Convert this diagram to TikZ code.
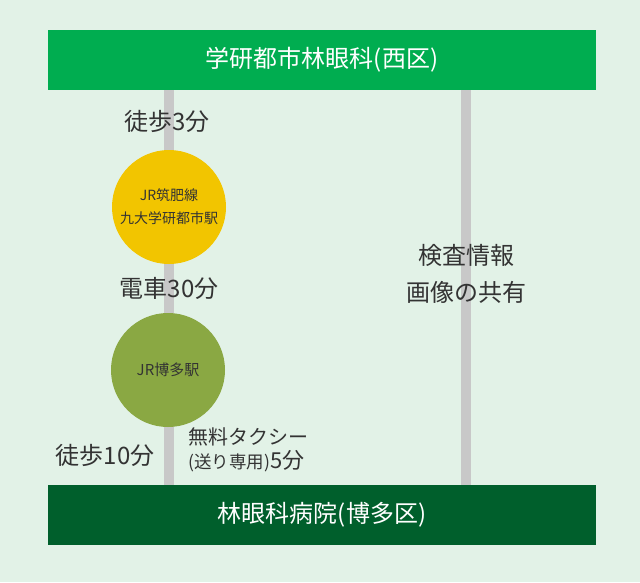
\documentclass[tikz,border=0pt]{standalone}
\usepackage{fontspec}
\setmainfont{Noto Sans CJK JP}
\begin{document}
\begin{tikzpicture}[
		x=1pt, y=-1pt,
		every node/.style={text=MauChu, inner sep=0pt},
		thanh/.style={minimum width=548pt, minimum height=60pt, text=white,
			font=\fontsize{24}{27}\selectfont},
		ga/.style={circle, minimum size=114pt, align=center},
		nhan/.style={font=\fontsize{24}{27}\selectfont},
		duong/.style={MauDuong, line width=10pt}
	]
		\definecolor{MauNen}{HTML}{E2F2E7}
		\definecolor{MauTren}{HTML}{00AD50}
		\definecolor{MauDuoi}{HTML}{005F2C}
		\definecolor{MauVang}{HTML}{F2C500}
		\definecolor{MauOliu}{HTML}{8AA843}
		\definecolor{MauDuong}{HTML}{C8C8C8}
		\definecolor{MauChu}{HTML}{333333}
		\fill[MauNen] (0,0) rectangle (640,582);
		\node[thanh, fill=MauTren] (tren) at (322,60)
			{学研都市林眼科(西区)};
		\node[thanh, fill=MauDuoi] (duoi) at (322,515)
			{林眼科病院(博多区)};
		\coordinate (trai) at (169,300);
		\coordinate (phai) at (466,300);
		\draw[duong] (tren.south -| trai) -- (duoi.north -| trai);
		\draw[duong] (tren.south -| phai) -- (duoi.north -| phai);
		\node[ga, fill=MauVang, font=\fontsize{14}{23}\selectfont] (gaKyudai)
			at (169,207) {JR筑肥線\\九大学研都市駅};
		\node[ga, fill=MauOliu, font=\fontsize{15}{17}\selectfont] (gaHakata)
			at (168,370) {JR博多駅};
		\node[nhan] (buoc1) at (167,121) {徒歩3分};
		\node[nhan] (tau) at (169,288) {電車30分};
		\node[nhan] (buoc2) at (105,455) {徒歩10分};
		\node[nhan, align=center] (chiase) at (466,274)
			{検査情報\\[10pt]画像の共有};
		\node[anchor=west, align=left, font=\fontsize{20}{24}\selectfont]
			(taxi) at (188,450)
			{無料タクシー\\{\fontsize{17.5}{20}\selectfont(送り専用)}{\fontsize{22}{24}\selectfont 5分}};
	\end{tikzpicture}
\end{document}
